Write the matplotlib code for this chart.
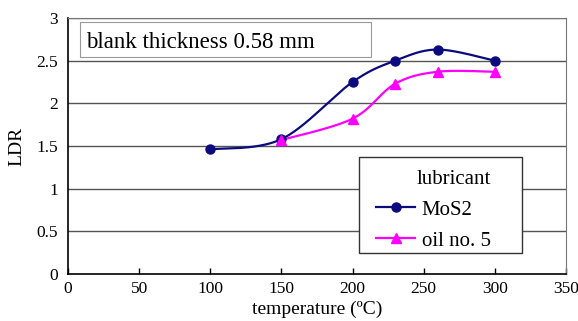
import numpy as np
import matplotlib.pyplot as plt
from matplotlib.patches import Rectangle

# data
temp_mos2 = [100, 150, 200, 230, 260, 300]
ldr_mos2 = [1.46, 1.58, 2.25, 2.50, 2.63, 2.50]
temp_oil = [150, 200, 230, 260, 300]
ldr_oil = [1.57, 1.82, 2.23, 2.37, 2.37]

x_ticks = [0, 50, 100, 150, 200, 250, 300, 350]
y_ticks = [0, 0.5, 1, 1.5, 2, 2.5, 3]
y_tick_labels = ['0', '0.5', '1', '1.5', '2', '2.5', '3']


def _smooth(xs, ys, n=30):
    # Excel-style smoothed line (cubic Bezier / Catmull-Rom through the points)
    p = np.column_stack([xs, ys]).astype(float)
    p = np.vstack([p[0], p, p[-1]])
    out = []
    t = np.linspace(0, 1, n)[:, None]
    for i in range(1, len(p) - 2):
        p0, p1, p2, p3 = p[i - 1], p[i], p[i + 1], p[i + 2]
        c1 = p1 + (p2 - p0) / 6
        c2 = p2 - (p3 - p1) / 6
        seg = ((1 - t) ** 3) * p1 + 3 * ((1 - t) ** 2) * t * c1 + 3 * (1 - t) * t ** 2 * c2 + t ** 3 * p2
        out.append(seg)
    out = np.vstack(out)
    return out[:, 0], out[:, 1]


def main():
    plt.rcParams['font.family'] = ['Liberation Serif', 'DejaVu Serif']

    fig = plt.figure(figsize=(5.78, 3.21), dpi=100)
    ax = fig.add_axes([0.1176, 0.1464, 0.8616, 0.7976])

    navy = '#0b0b7e'
    magenta = '#ff00ff'

    for y in y_ticks[1:]:
        ax.axhline(y, color='#555555', lw=1.0, zorder=1)

    sx, sy = _smooth(temp_mos2, ldr_mos2)
    ax.plot(sx, sy, color=navy, lw=1.6, zorder=3)
    ax.plot(temp_mos2, ldr_mos2, 'o', color=navy, ms=6.5, zorder=4)
    sx, sy = _smooth(temp_oil, ldr_oil)
    ax.plot(sx, sy, color=magenta, lw=1.6, zorder=3)
    ax.plot(temp_oil, ldr_oil, '^', color=magenta, ms=7, zorder=4)

    # legend proxies
    ax.plot([], [], color=navy, lw=1.6, marker='o', ms=6.5, label='MoS2')
    ax.plot([], [], color=magenta, lw=1.6, marker='^', ms=7, label='oil no. 5')

    ax.set_xlim(0, 350)
    ax.set_ylim(0, 3)
    ax.set_xticks(x_ticks)
    ax.set_yticks(y_ticks)
    ax.set_yticklabels(y_tick_labels)
    ax.tick_params(axis='x', direction='in', length=4, width=1, labelsize=12.5, pad=5)
    ax.tick_params(axis='y', length=0, labelsize=12.5, pad=7)
    for side in ['top', 'right']:
        ax.spines[side].set_color('#777777')
    for side in ['left', 'bottom']:
        ax.spines[side].set_color('black')
        ax.spines[side].set_linewidth(1.2)

    ax.set_xlabel('temperature (ºC)', fontsize=14, labelpad=3)
    ax.set_ylabel('LDR', fontsize=14, labelpad=8)

    ax.add_patch(Rectangle((0.024, 0.848), 0.584, 0.136, transform=ax.transAxes,
                           facecolor='white', edgecolor='#999999', lw=0.8, zorder=5))
    ax.text(0.036, 0.906, 'blank thickness 0.58 mm', transform=ax.transAxes,
            fontsize=16.5, va='center', ha='left', zorder=6)

    # legend frame drawn separately so the padding can follow the reference
    ax.add_patch(Rectangle((0.584, 0.082), 0.327, 0.375, transform=ax.transAxes,
                           facecolor='white', edgecolor='#333333', lw=1.0, zorder=6))
    leg = ax.legend(loc='upper left', bbox_to_anchor=(0.618, 0.408), title='lubricant',
                    fontsize=15, title_fontsize=15, frameon=False, alignment='right',
                    handlelength=1.9, borderpad=0, labelspacing=0.55, borderaxespad=0,
                    handletextpad=0.3)
    leg.set_zorder(7)

    fig.savefig('out.png', dpi=100)
    plt.close(fig)


if __name__ == '__main__':
    main()
